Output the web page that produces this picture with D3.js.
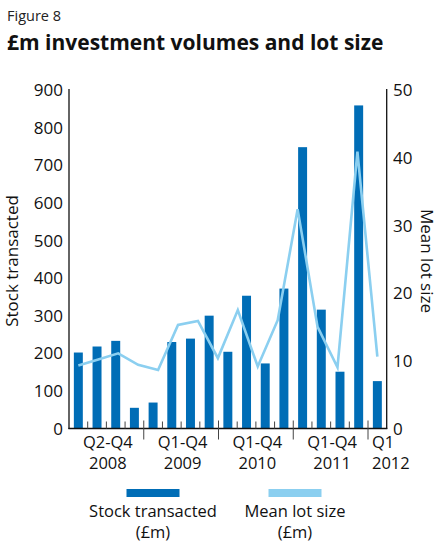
<!DOCTYPE html>
<html>
<head>
<meta charset="utf-8">
<script src="https://cdn.jsdelivr.net/npm/d3@7"></script>
<style>
  html, body { margin: 0; padding: 0; background: #fff; }
  svg { display: block; font-family: "Open Sans", "Noto Sans", sans-serif; }
</style>
</head>
<body>
<svg id="chart" width="441" height="544"></svg>
<script>
// Quarterly stock transacted (£m), 2008 – Q1 2012
const quarters = ["Q1-08", "Q2-08", "Q3-08", "Q4-08",
                  "Q1-09", "Q2-09", "Q3-09", "Q4-09",
                  "Q1-10", "Q2-10", "Q3-10", "Q4-10",
                  "Q1-11", "Q2-11", "Q3-11", "Q4-11",
                  "Q1-12"];
const stockTransacted = [202, 218, 233, 55, 69, 230, 239, 300,
                         204, 353, 173, 372, 748, 316, 151, 859, 126];

// Mean lot size (£m)
const meanLotSize = [9.3, 10.2, 11.1, 9.4, 8.65, 15.3, 15.9, 10.4,
                     17.5, 9.15, 16.0, 32.4, 15.0, 9.05, 40.9, 10.6];

// Year groups along the category axis
const groupLabels = [["Q2-Q4", "2008"], ["Q1-Q4", "2009"], ["Q1-Q4", "2010"],
                     ["Q1-Q4", "2011"], ["Q1", "2012"]];
const groupSizes = [4, 4, 4, 4, 1];

const leftTicks = [0, 100, 200, 300, 400, 500, 600, 700, 800, 900];
const rightTicks = [0, 10, 20, 30, 40, 50];

const barColor = "#006db6";
const lineColor = "#8bcff0";

const svg = d3.select("#chart");
const m = { left: 69, right: 386.7, top: 90, bottom: 428.5 };

const x = d3.scaleBand().domain(quarters).range([m.left, m.right])
  .paddingInner(0.52).paddingOuter(0.26);
const yL = d3.scaleLinear().domain([0, 900]).range([m.bottom, m.top]);
const yR = d3.scaleLinear().domain([0, 50]).range([m.bottom, m.top]);
const xLine = d3.scalePoint().domain(d3.range(meanLotSize.length))
  .range([x(quarters[0]) + x.bandwidth() / 2,
          x(quarters[quarters.length - 1]) + x.bandwidth() / 2]);

// Titles
svg.append("text").attr("x", 7).attr("y", 20.5)
  .attr("font-size", 14.5).attr("fill", "#222").text("Figure 8");
svg.append("text").attr("x", 7).attr("y", 50)
  .attr("font-size", 21).attr("font-weight", 700).attr("fill", "#111")
  .text("£m investment volumes and lot size");

// Bars
svg.append("g").selectAll("rect").data(stockTransacted).join("rect")
  .attr("x", (d, i) => x(quarters[i]))
  .attr("width", x.bandwidth())
  .attr("y", d => yL(d))
  .attr("height", d => yL(0) - yL(d))
  .attr("fill", barColor);

// Mean lot size line
svg.append("path").datum(meanLotSize)
  .attr("fill", "none").attr("stroke", lineColor).attr("stroke-width", 2.6)
  .attr("stroke-linejoin", "miter")
  .attr("d", d3.line().x((d, i) => xLine(i)).y(d => yR(d)));

// Axes
const axisG = svg.append("g").attr("stroke", "#111").attr("stroke-width", 1.3);
axisG.append("line").attr("x1", m.left).attr("x2", m.left)
  .attr("y1", m.top - 1).attr("y2", m.bottom + 0.6);
axisG.append("line").attr("x1", m.right).attr("x2", m.right)
  .attr("y1", m.top - 1).attr("y2", m.bottom + 0.6);
axisG.append("line").attr("x1", m.left - 0.6).attr("x2", m.right + 0.6)
  .attr("y1", m.bottom).attr("y2", m.bottom);

// Category ticks: short between quarters, long between years
const step = x.step();
const boundaries = d3.range(1, quarters.length);
let acc = 0;
const yearEdges = new Set(groupSizes.slice(0, -1).map(s => (acc += s)));
const tickG = svg.append("g").attr("stroke", "#444").attr("stroke-width", 1);
tickG.selectAll("line").data(boundaries).join("line")
  .attr("x1", i => m.left + i * step).attr("x2", i => m.left + i * step)
  .attr("y1", i => yearEdges.has(i) ? m.bottom - 8 : m.bottom - 7)
  .attr("y2", i => yearEdges.has(i) ? m.bottom + 11 : m.bottom);

// Left axis labels
svg.append("g").selectAll("text").data(leftTicks).join("text")
  .attr("x", 63).attr("y", d => yL(d)).attr("dy", "0.36em")
  .attr("text-anchor", "end").attr("font-size", 17).attr("fill", "#111")
  .text(d => d);
// Right axis labels
svg.append("g").selectAll("text").data(rightTicks).join("text")
  .attr("x", 393).attr("y", d => yR(d)).attr("dy", "0.36em")
  .attr("text-anchor", "start").attr("font-size", 17).attr("fill", "#111")
  .text(d => d);

// Axis titles
svg.append("text").attr("transform", "translate(18,261) rotate(-90)")
  .attr("text-anchor", "middle").attr("font-size", 17).attr("fill", "#111")
  .text("Stock transacted");
svg.append("text").attr("transform", "translate(421,261) rotate(90)")
  .attr("text-anchor", "middle").attr("font-size", 17).attr("fill", "#111")
  .text("Mean lot size");

// Year group labels, two lines each
let start = 0;
groupLabels.forEach((lab, gi) => {
  const n = groupSizes[gi];
  const last = gi === groupLabels.length - 1;
  const cx = last ? m.left + start * step + 4 : m.left + (start + n / 2) * step + 1.5;
  lab.forEach((s, k) => {
    svg.append("text").attr("x", cx).attr("y", 447.5 + k * 21)
      .attr("text-anchor", last ? "start" : "middle")
      .attr("font-size", 16.5).attr("fill", "#111").text(s);
  });
  start += n;
});

// Legend
const legend = [
  { cx: 153, color: barColor, lines: ["Stock transacted", "(£m)"] },
  { cx: 295, color: lineColor, lines: ["Mean lot size", "(£m)"] }
];
const lg = svg.append("g").selectAll("g").data(legend).join("g");
lg.append("rect").attr("x", d => d.cx - 26.5).attr("y", 489)
  .attr("width", 53).attr("height", 8).attr("fill", d => d.color);
lg.each(function (d) {
  const g = d3.select(this);
  d.lines.forEach((s, k) => g.append("text").attr("x", d.cx).attr("y", 516.5 + k * 21)
    .attr("text-anchor", "middle").attr("font-size", 16.5).attr("fill", "#111").text(s));
});
</script>
</body>
</html>
